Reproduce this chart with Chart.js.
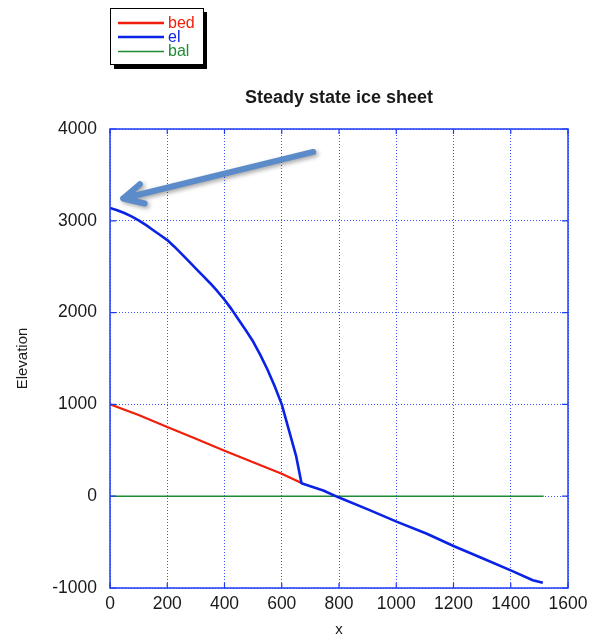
<!DOCTYPE html>
<html>
<head>
<meta charset="utf-8">
<script src="https://cdn.jsdelivr.net/npm/chart.js@4/dist/chart.umd.min.js"></script>
<style>
  body { margin: 0; background: #fff; }
  canvas { display: block; }
</style>
</head>
<body>
<canvas id="ice-chart" width="594" height="642"></canvas>
<script>
// surface elevation along the flow line
const elX = [0, 25, 50, 75, 100, 125, 150, 175, 200, 225, 250, 275, 300, 325, 350, 375, 400, 425, 450, 475, 500, 525, 550, 575, 600, 625, 650, 669,
  700, 745, 800, 907, 1003, 1105, 1202, 1303, 1404, 1477, 1512];
const elY = [3140, 3115, 3085, 3048, 3005, 2955, 2900, 2845, 2790, 2718, 2640, 2560, 2480, 2400, 2320, 2233, 2140, 2035, 1920, 1805, 1685, 1540, 1380, 1200, 1000, 720, 440, 140,
  108, 62, -15, -152, -280, -406, -545, -679, -814, -915, -944];

// bed under the ice
const bedX = [0, 100, 200, 300, 400, 500, 600, 669];
const bedY = [1000, 885, 755, 625, 495, 370, 245, 145];

// balance line
const balX = [0, 1515];
const balY = [0, 0];

const xTicks = [0, 200, 400, 600, 800, 1000, 1200, 1400, 1600];
const yTicks = [-1000, 0, 1000, 2000, 3000, 4000];

const FONT = "'Liberation Sans', Arial, Helvetica, sans-serif";
const RED = "#f01e0a";
const BLUE = "#0a22e6";
const GREEN = "#1e8c32";
const FRAME = "#1f3cf5";
const GRID = "#3a55ff";

function toPoints(xs, ys) {
  return xs.map((x, i) => ({ x: x, y: ys[i] }));
}

// title, legend box, frame with inward ticks, and the arrow
const decorations = {
  id: "decorations",
  beforeDraw(chart) {
    const ctx = chart.ctx;
    ctx.save();
    ctx.fillStyle = "#fff";
    ctx.fillRect(0, 0, chart.width, chart.height);
    ctx.restore();
  },
  afterDraw(chart) {
    const ctx = chart.ctx;
    const a = chart.chartArea;
    const xs = chart.scales.x;
    const ys = chart.scales.y;

    // frame
    ctx.save();
    ctx.strokeStyle = FRAME;
    ctx.lineWidth = 1.5;
    ctx.strokeRect(a.left, a.top, a.right - a.left, a.bottom - a.top);
    ctx.lineWidth = 1.2;
    ctx.beginPath();
    xTicks.forEach((v) => {
      const px = xs.getPixelForValue(v);
      ctx.moveTo(px, a.bottom); ctx.lineTo(px, a.bottom - 5);
      ctx.moveTo(px, a.top); ctx.lineTo(px, a.top + 5);
    });
    yTicks.forEach((v) => {
      const py = ys.getPixelForValue(v);
      ctx.moveTo(a.left, py); ctx.lineTo(a.left + 6, py);
      ctx.moveTo(a.right, py); ctx.lineTo(a.right - 6, py);
    });
    ctx.stroke();
    ctx.restore();

    // title
    ctx.save();
    ctx.fillStyle = "#1a1a1a";
    ctx.font = "bold 18px " + FONT;
    ctx.textAlign = "center";
    ctx.textBaseline = "middle";
    ctx.fillText("Steady state ice sheet", (a.left + a.right) / 2, 98);
    ctx.restore();

    // legend box with drop shadow
    ctx.save();
    ctx.fillStyle = "#000";
    ctx.fillRect(114, 12, 93, 57);
    ctx.fillStyle = "#fff";
    ctx.fillRect(110, 8, 93, 56);
    ctx.strokeStyle = "#000";
    ctx.lineWidth = 1;
    ctx.strokeRect(110.5, 8.5, 93, 56);
    const items = [
      { label: "bed", color: RED, width: 2.6, y: 23 },
      { label: "el", color: BLUE, width: 2.6, y: 37 },
      { label: "bal", color: GREEN, width: 1.4, y: 51.5 }
    ];
    ctx.font = "16px " + FONT;
    ctx.textBaseline = "middle";
    items.forEach((it) => {
      ctx.strokeStyle = it.color;
      ctx.lineWidth = it.width;
      ctx.beginPath();
      ctx.moveTo(118, it.y);
      ctx.lineTo(164, it.y);
      ctx.stroke();
      ctx.fillStyle = it.color;
      ctx.fillText(it.label, 168, it.y + 0.5);
    });
    ctx.restore();

    // arrow pointing at the divide
    const tx = xs.getPixelForValue(710), ty = ys.getPixelForValue(3750);
    const hx = xs.getPixelForValue(46), hy = ys.getPixelForValue(3243);
    const ang = Math.atan2(ty - hy, tx - hx);
    const barb = 22, spread = 0.47;
    ctx.save();
    ctx.shadowColor = "rgba(0,0,0,0.35)";
    ctx.shadowBlur = 4;
    ctx.shadowOffsetX = 2;
    ctx.shadowOffsetY = 2;
    ctx.strokeStyle = "#5b8bc9";
    ctx.lineWidth = 6;
    ctx.lineCap = "round";
    ctx.lineJoin = "round";
    ctx.beginPath();
    ctx.moveTo(tx, ty);
    ctx.lineTo(hx, hy);
    ctx.moveTo(hx + barb * Math.cos(ang - spread), hy + barb * Math.sin(ang - spread));
    ctx.lineTo(hx, hy);
    ctx.lineTo(hx + barb * Math.cos(ang + spread), hy + barb * Math.sin(ang + spread));
    ctx.stroke();
    ctx.restore();
  }
};

new Chart(document.getElementById("ice-chart"), {
  type: "scatter",
  data: {
    datasets: [
      { label: "el", data: toPoints(elX, elY), showLine: true, borderColor: BLUE, borderWidth: 2.6, pointRadius: 0, tension: 0, borderJoinStyle: "round" },
      { label: "bed", data: toPoints(bedX, bedY), showLine: true, borderColor: RED, borderWidth: 2.2, pointRadius: 0, tension: 0 },
      { label: "bal", data: toPoints(balX, balY), showLine: true, borderColor: GREEN, borderWidth: 1.4, pointRadius: 0, tension: 0 }
    ]
  },
  options: {
    responsive: false,
    animation: false,
    layout: { padding: { top: 129, right: 26, bottom: 0, left: 0 } },
    plugins: {
      legend: { display: false },
      title: { display: false },
      tooltip: { enabled: false }
    },
    scales: {
      x: {
        type: "linear",
        min: 0,
        max: 1600,
        afterBuildTicks: (s) => { s.ticks = xTicks.map((v) => ({ value: v })); },
        afterFit: (s) => { s.height = 54; },
        ticks: {
          color: "#1a1a1a",
          font: { family: FONT, size: 17.5 },
          padding: 6,
          maxRotation: 0,
          callback: (v) => String(v)
        },
        grid: { color: GRID, lineWidth: 1, drawTicks: false },
        border: { display: false, dash: [1, 2] },
        title: { display: true, text: "x", color: "#1a1a1a", font: { family: FONT, size: 15 }, padding: { top: 0, bottom: 3 } }
      },
      y: {
        type: "linear",
        min: -1000,
        max: 4000,
        afterBuildTicks: (s) => { s.ticks = yTicks.map((v) => ({ value: v })); },
        afterFit: (s) => { s.width = 110; },
        ticks: {
          color: "#1a1a1a",
          font: { family: FONT, size: 17.5 },
          padding: 13,
          callback: (v) => String(v)
        },
        grid: { color: GRID, lineWidth: 1, drawTicks: false },
        border: { display: false, dash: [1, 2] },
        title: { display: true, text: "Elevation", color: "#1a1a1a", font: { family: FONT, size: 15 }, padding: { top: 14, bottom: 0 } }
      }
    }
  },
  plugins: [decorations]
});
</script>
</body>
</html>
